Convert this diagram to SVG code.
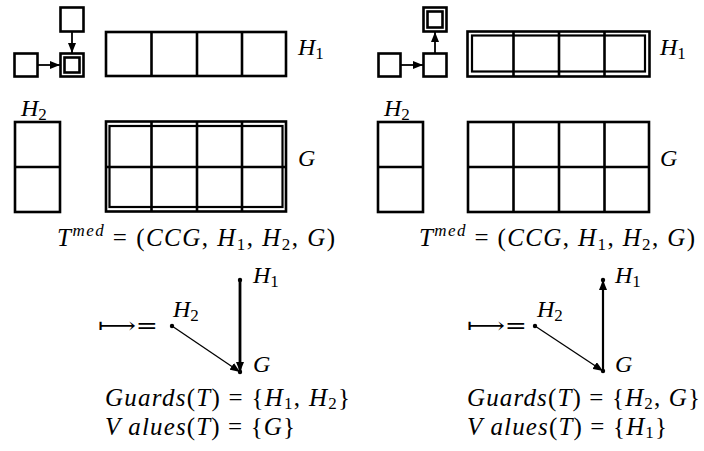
<svg xmlns="http://www.w3.org/2000/svg" width="704" height="451" viewBox="0 0 704 451">
<defs>
<marker id="ah" viewBox="0 0 10 8" refX="10" refY="4" markerWidth="10" markerHeight="8" markerUnits="userSpaceOnUse" orient="auto">
<path d="M0,0 L10,4 L0,8 Z" fill="#000"/>
</marker>
</defs>
<style>
.b{fill:none;stroke:#000;stroke-width:2.6}
.t{fill:none;stroke:#000;stroke-width:2.2}
.c{stroke:#000;stroke-width:1.8;fill:none}
.m{font-family:"Liberation Serif","Times New Roman",serif;font-size:25px;fill:#000}
.l{font-family:"Liberation Serif","Times New Roman",serif;font-size:24px;fill:#000;font-style:italic}
.i{font-style:italic}
.n{font-style:normal}
.s{font-size:17px;font-style:normal}
.sup{font-size:17px;font-style:italic}
.dot{fill:#000}
</style>
<rect width="704" height="451" fill="#fff"/>

<!-- LEFT PANEL -->
<g id="left-small-top"><rect class="b" x="60.5" y="7.5" width="23" height="24"/></g>
<g id="left-small-left"><rect class="b" x="14.5" y="53.5" width="23" height="23"/></g>
<g id="left-small-double"><rect class="b" x="60.5" y="53.5" width="23" height="23"/><rect class="b" x="64.5" y="57.5" width="15" height="15"/></g>
<g id="left-H1"><rect class="b" x="106" y="32" width="180" height="44"/>
<line class="b" x1="151.5" y1="32" x2="151.5" y2="76"/><line class="b" x1="197" y1="32" x2="197" y2="76"/><line class="b" x1="242" y1="32" x2="242" y2="76"/>
<text class="l" x="298" y="55">H<tspan class="s" dy="4">1</tspan></text></g>
<g id="left-H2"><rect class="b" x="15" y="122" width="45" height="90"/><line class="b" x1="15" y1="167" x2="60" y2="167"/>
<text class="l" x="21" y="116">H<tspan class="s" dy="4">2</tspan></text></g>
<g id="left-G"><rect class="b" x="106" y="121.5" width="180" height="90"/><rect class="t" x="109.5" y="126" width="173" height="81"/>
<line class="b" x1="106" y1="167" x2="286" y2="167"/>
<line class="b" x1="151.5" y1="121" x2="151.5" y2="212"/><line class="b" x1="197" y1="121" x2="197" y2="212"/><line class="b" x1="242" y1="121" x2="242" y2="212"/>
<text class="l" x="298" y="166">G</text></g>
<text class="m" x="57" y="246" textLength="278" lengthAdjust="spacing"><tspan class="i">T</tspan><tspan class="sup" dy="-10">med</tspan><tspan dy="10"> = (</tspan><tspan class="i">CCG</tspan>, <tspan class="i">H</tspan><tspan class="s" dy="4">1</tspan><tspan dy="-4">, </tspan><tspan class="i">H</tspan><tspan class="s" dy="4">2</tspan><tspan dy="-4">, </tspan><tspan class="i">G</tspan>)</text>

<!-- left graph -->
<g id="left-node-H1"><circle class="dot" cx="240" cy="280" r="2.2"/><text class="l" x="253" y="283">H<tspan class="s" dy="4">1</tspan></text></g>
<g id="left-node-H2"><circle class="dot" cx="172" cy="326" r="2.2"/><text class="l" x="173" y="317">H<tspan class="s" dy="4">2</tspan></text></g>
<g id="left-node-G"><circle class="dot" cx="240" cy="372" r="2.2"/><text class="l" x="253" y="372">G</text></g>
<text x="98" y="333" textLength="60" lengthAdjust="spacingAndGlyphs" style="font-family:'DejaVu Serif',serif;font-size:22px">⟼=</text>
<text class="m i" x="105" y="406" textLength="245" lengthAdjust="spacing">Guards<tspan class="n">(</tspan>T<tspan class="n">) = {</tspan>H<tspan class="s" dy="3">1</tspan><tspan class="n" dy="-3">, </tspan>H<tspan class="s" dy="3">2</tspan><tspan class="n" dy="-3">}</tspan></text>
<text class="m i" x="105" y="435" textLength="190" lengthAdjust="spacing">V alues<tspan class="n">(</tspan>T<tspan class="n">) = {</tspan>G<tspan class="n">}</tspan></text>

<!-- RIGHT PANEL -->
<g id="right-small-top-double"><rect class="b" x="423.5" y="7.5" width="23" height="24"/><rect class="b" x="427.5" y="11.5" width="15" height="16"/></g>
<g id="right-small-left"><rect class="b" x="378.5" y="53.5" width="22" height="23"/></g>
<g id="right-small-mid"><rect class="b" x="423.5" y="53.5" width="23" height="23"/></g>
<g id="right-H1"><rect class="b" x="467.5" y="31.5" width="182" height="45"/><rect class="t" x="472" y="35.5" width="173" height="36"/>
<line class="b" x1="513.5" y1="31" x2="513.5" y2="77"/><line class="b" x1="559" y1="31" x2="559" y2="77"/><line class="b" x1="604.5" y1="31" x2="604.5" y2="77"/>
<text class="l" x="660" y="55">H<tspan class="s" dy="4">1</tspan></text></g>
<g id="right-H2"><rect class="b" x="378" y="122" width="45" height="90"/><line class="b" x1="378" y1="167" x2="423" y2="167"/>
<text class="l" x="384" y="116">H<tspan class="s" dy="4">2</tspan></text></g>
<g id="right-G"><rect class="b" x="468" y="122" width="181" height="90"/><line class="b" x1="468" y1="167" x2="649" y2="167"/>
<line class="b" x1="513.5" y1="122" x2="513.5" y2="212"/><line class="b" x1="559" y1="122" x2="559" y2="212"/><line class="b" x1="604.5" y1="122" x2="604.5" y2="212"/>
<text class="l" x="660" y="166">G</text></g>
<text class="m" x="419" y="246" textLength="276" lengthAdjust="spacing"><tspan class="i">T</tspan><tspan class="sup" dy="-10">med</tspan><tspan dy="10"> = (</tspan><tspan class="i">CCG</tspan>, <tspan class="i">H</tspan><tspan class="s" dy="4">1</tspan><tspan dy="-4">, </tspan><tspan class="i">H</tspan><tspan class="s" dy="4">2</tspan><tspan dy="-4">, </tspan><tspan class="i">G</tspan>)</text>

<g id="right-node-H1"><circle class="dot" cx="603" cy="280" r="2.2"/><text class="l" x="615" y="283">H<tspan class="s" dy="4">1</tspan></text></g>
<g id="right-node-H2"><circle class="dot" cx="535" cy="326" r="2.2"/><text class="l" x="537" y="317">H<tspan class="s" dy="4">2</tspan></text></g>
<g id="right-node-G"><circle class="dot" cx="603" cy="371" r="2.2"/><text class="l" x="615" y="372">G</text></g>
<text x="467" y="333" textLength="60" lengthAdjust="spacingAndGlyphs" style="font-family:'DejaVu Serif',serif;font-size:22px">⟼=</text>
<text class="m i" x="467" y="406" textLength="233" lengthAdjust="spacing">Guards<tspan class="n">(</tspan>T<tspan class="n">) = {</tspan>H<tspan class="s" dy="3">2</tspan><tspan class="n" dy="-3">, </tspan>G<tspan class="n">}</tspan></text>
<text class="m i" x="467" y="435" textLength="200" lengthAdjust="spacing">V alues<tspan class="n">(</tspan>T<tspan class="n">) = {</tspan>H<tspan class="s" dy="3">1</tspan><tspan class="n" dy="-3">}</tspan></text>

<!-- CONNECTORS -->
<g id="connectors">
<line class="c" x1="38" y1="65" x2="60" y2="65" marker-end="url(#ah)"/>
<line class="c" x1="72" y1="32" x2="72" y2="53" marker-end="url(#ah)"/>
<line class="c" x1="401" y1="65" x2="423" y2="65" marker-end="url(#ah)"/>
<line class="c" x1="435" y1="53" x2="435" y2="32" marker-end="url(#ah)"/>
<line stroke="#000" stroke-width="2.8" x1="240" y1="280" x2="240" y2="372" marker-end="url(#ah)"/>
<line stroke="#000" stroke-width="1.3" x1="172" y1="326" x2="240" y2="372" marker-end="url(#ah)"/>
<line stroke="#000" stroke-width="2.2" x1="603" y1="371" x2="603" y2="280" marker-end="url(#ah)"/>
<line stroke="#000" stroke-width="1.3" x1="535" y1="326" x2="603" y2="371" marker-end="url(#ah)"/>
</g>
</svg>
